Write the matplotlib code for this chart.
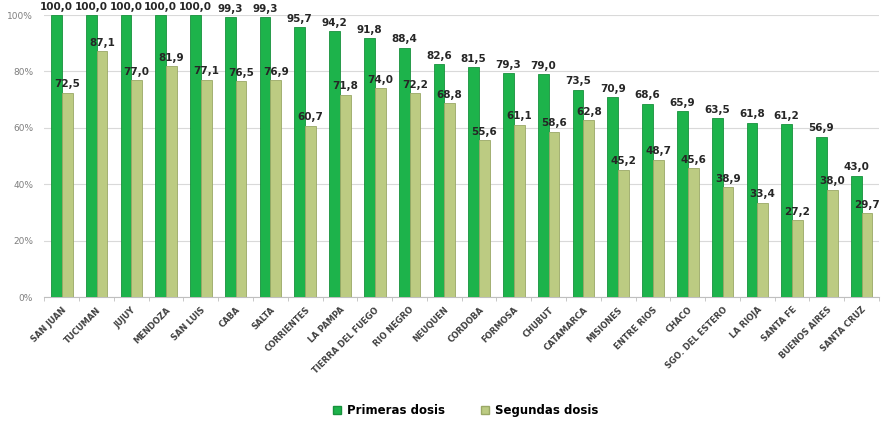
import matplotlib.pyplot as plt
import numpy as np
from matplotlib.patches import Patch

# Provincias y porcentajes de cobertura
provincias = [
    "SAN JUAN", "TUCUMAN", "JUJUY", "MENDOZA", "SAN LUIS", "CABA", "SALTA",
    "CORRIENTES", "LA PAMPA", "TIERRA DEL FUEGO", "RIO NEGRO", "NEUQUEN",
    "CORDOBA", "FORMOSA", "CHUBUT", "CATAMARCA", "MISIONES", "ENTRE RIOS",
    "CHACO", "SGO. DEL ESTERO", "LA RIOJA", "SANTA FE", "BUENOS AIRES",
    "SANTA CRUZ",
]
primeras = [100.0, 100.0, 100.0, 100.0, 100.0, 99.3, 99.3, 95.7, 94.2, 91.8,
            88.4, 82.6, 81.5, 79.3, 79.0, 73.5, 70.9, 68.6, 65.9, 63.5,
            61.8, 61.2, 56.9, 43.0]
segundas = [72.5, 87.1, 77.0, 81.9, 77.1, 76.5, 76.9, 60.7, 71.8, 74.0,
            72.2, 68.8, 55.6, 61.1, 58.6, 62.8, 45.2, 48.7, 45.6, 38.9,
            33.4, 27.2, 38.0, 29.7]

verde = '#1db34b'
oliva = '#bccb82'
gris_txt = '#7f7f7f'

fig = plt.figure(figsize=(8.87, 4.21), dpi=100)
ax = fig.add_axes([0.050, 0.2945, 0.941, 0.6698])

x = np.arange(len(provincias))
w = 0.31

b1 = ax.bar(x - w / 2, primeras, w, color=verde, edgecolor='#17913c', linewidth=0.6, zorder=3)
b2 = ax.bar(x + w / 2, segundas, w, color=oliva, edgecolor='#9aa866', linewidth=0.6, zorder=3)

# Etiquetas de valores con coma decimal
for bars, vals in ((b1, primeras), (b2, segundas)):
    for rect, v in zip(bars, vals):
        ax.text(rect.get_x() + rect.get_width() / 2, v + 1.2,
                f"{v:.1f}".replace('.', ','), ha='center', va='bottom',
                fontsize=7.5, fontweight='bold', color='#262626', clip_on=False, zorder=5)

ax.set_xlim(-0.5, len(provincias) - 0.5)
ax.set_ylim(0, 100)
ax.set_yticks(range(0, 101, 20))
ax.set_yticklabels([f"{t}%" for t in range(0, 101, 20)], fontsize=6.5, color=gris_txt)
ax.yaxis.grid(True, color='#d9d9d9', linewidth=0.8, zorder=0)
ax.tick_params(axis='y', length=0, pad=8)

ax.set_xticks(x)
ax.set_xticklabels(provincias, rotation=45, ha='right', rotation_mode='anchor',
                   fontsize=6, fontweight='bold', color='#404040')
ax.set_xticks(np.arange(len(provincias) + 1) - 0.5, minor=True)
ax.tick_params(axis='x', which='major', length=0, pad=6)
ax.tick_params(axis='x', which='minor', length=3, color='#bfbfbf')

for s in ('top', 'right', 'left'):
    ax.spines[s].set_visible(False)
ax.spines['bottom'].set_color('#bfbfbf')

handles = [Patch(facecolor=verde, edgecolor='#17913c'),
           Patch(facecolor=oliva, edgecolor='#9aa866')]
fig.legend(handles, ['Primeras dosis', 'Segundas dosis'], loc='center',
           bbox_to_anchor=(0.525, 0.025), ncol=2, frameon=False,
           prop={'weight': 'bold', 'size': 8.5}, handlelength=0.7, handleheight=0.7,
           columnspacing=3.0, handletextpad=0.5)

fig.savefig('out.png', dpi=100, facecolor='white')
